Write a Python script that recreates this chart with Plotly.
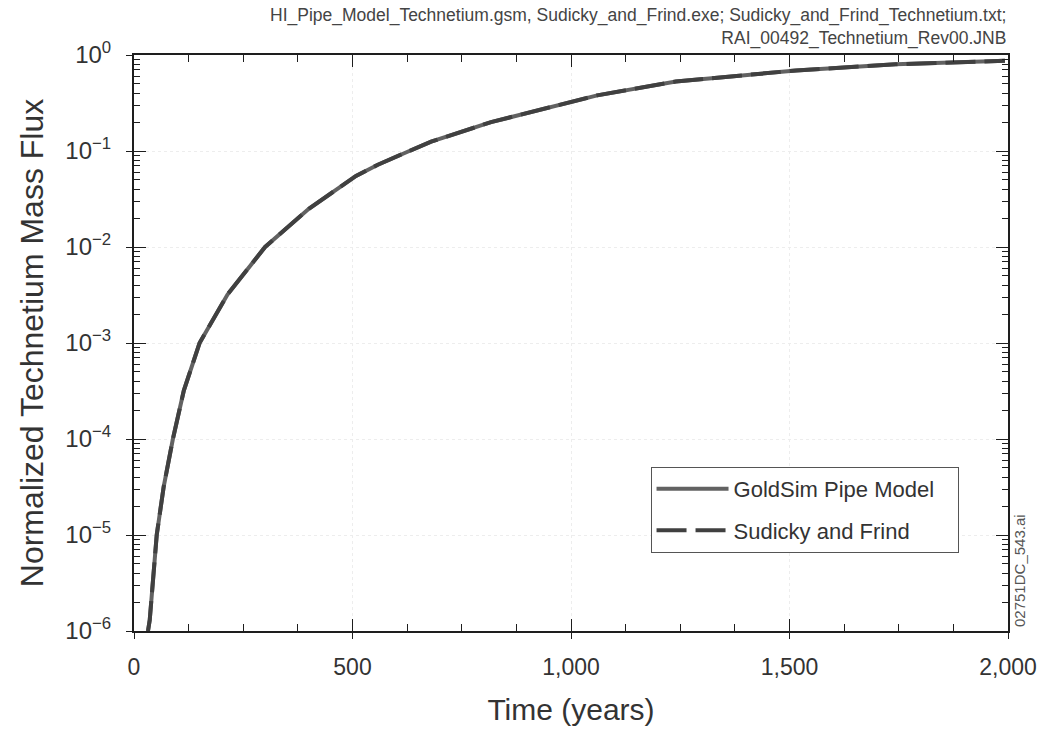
import plotly.graph_objects as go

# ---- data ----
time_years = [32, 36, 52, 68, 89, 114, 150, 214, 300, 400, 508, 558, 630, 680, 817, 1060, 1240, 1515, 1743, 1993]
goldsim_flux = [1e-6, 1.3e-6, 1e-5, 3.2e-5, 1e-4, 3.2e-4, 1e-3, 3.2e-3, 1e-2, 2.5e-2,
                0.055, 0.072, 0.10, 0.125, 0.20, 0.38, 0.53, 0.69, 0.80, 0.87]
sudicky_flux = [1e-6, 1.3e-6, 1e-5, 3.2e-5, 1e-4, 3.2e-4, 1e-3, 3.2e-3, 1e-2, 2.5e-2,
                0.055, 0.072, 0.10, 0.125, 0.20, 0.38, 0.53, 0.69, 0.80, 0.87]

x_ticks = [0, 500, 1000, 1500, 2000]
x_ticklabels = ["0", "500", "1,000", "1,500", "2,000"]
y_ticks = [1e-6, 1e-5, 1e-4, 1e-3, 1e-2, 1e-1, 1]
y_ticklabels = ["10<sup>\u22126</sup>", "10<sup>\u22125</sup>", "10<sup>\u22124</sup>",
                "10<sup>\u22123</sup>", "10<sup>\u22122</sup>", "10<sup>\u22121</sup>", "10<sup>0</sup>"]

series_names = ["GoldSim Pipe Model", "Sudicky and Frind"]
header_text = ("HI_Pipe_Model_Technetium.gsm, Sudicky_and_Frind.exe; Sudicky_and_Frind_Technetium.txt;<br>"
               "RAI_00492_Technetium_Rev00.JNB")
figure_id = "02751DC_543.ai"

SANS = "Liberation Sans, Arial, sans-serif"
AX = "#1e1e1e"
TXT = "#333333"
PAD = "\u00a0" * 3

fig = go.Figure()
fig.add_trace(go.Scatter(x=time_years, y=goldsim_flux, mode="lines", name=series_names[0] + PAD,
                         legendgroup="a", line=dict(color="#626262", width=4)))
fig.add_trace(go.Scatter(x=time_years, y=sudicky_flux, mode="lines", name=series_names[1] + PAD,
                         legendgroup="b", line=dict(color="#404040", width=4, dash="30px,9px")))
# empty trace to host the overlay axes (outer stubs of the major ticks)
fig.add_trace(go.Scatter(x=[], y=[], xaxis="x2", yaxis="y2", showlegend=False, hoverinfo="skip"))

fig.update_layout(
    width=1049, height=733,
    margin=dict(l=134, r=36, t=55, b=102),
    paper_bgcolor="white", plot_bgcolor="white",
    font=dict(family=SANS, color=TXT),
    showlegend=True,
    legend=dict(x=0.591, y=0.285, xanchor="left", yanchor="top",
                bgcolor="white", bordercolor="#555555", borderwidth=1,
                font=dict(family=SANS, size=22, color=TXT),
                traceorder="grouped", tracegroupgap=10, itemwidth=72),
    xaxis=dict(range=[0, 2000], tickvals=x_ticks, ticktext=x_ticklabels,
               ticks="inside", ticklen=12, tickwidth=1, tickcolor=AX,
               showline=True, linecolor=AX, linewidth=2, mirror="ticks",
               showgrid=True, gridcolor="#ededed", griddash="dot", zeroline=False,
               minor=dict(dtick=125, ticks="inside", ticklen=7, tickcolor=AX, showgrid=False),
               tickfont=dict(family=SANS, size=23, color=TXT),
               ticklabelstandoff=14,
               title=dict(text="Time (years)", font=dict(family=SANS, size=30, color=TXT),
                          standoff=20)),
    yaxis=dict(type="log", range=[-6, 0], tickvals=y_ticks, ticktext=y_ticklabels,
               ticks="inside", ticklen=12, tickwidth=1, tickcolor=AX,
               showline=True, linecolor=AX, linewidth=2, mirror="ticks",
               showgrid=True, gridcolor="#ededed", griddash="dot", zeroline=False,
               minor=dict(dtick="D1", ticks="inside", ticklen=6, tickcolor=AX, showgrid=False),
               tickfont=dict(family=SANS, size=24, color=TXT),
               ticklabelstandoff=16,
               title=dict(text="Normalized Technetium Mass Flux",
                          font=dict(family=SANS, size=32, color=TXT), standoff=12)),
    xaxis2=dict(overlaying="x", anchor="y2", side="bottom", range=[0, 2000], tickvals=x_ticks,
                showticklabels=False, ticks="outside", ticklen=7, tickcolor=AX,
                showgrid=False, zeroline=False, showline=False),
    yaxis2=dict(overlaying="y", anchor="x2", side="left", type="log", range=[-6, 0], tickvals=y_ticks,
                showticklabels=False, ticks="outside", ticklen=7, tickcolor=AX,
                showgrid=False, zeroline=False, showline=False),
)

fig.add_annotation(text=header_text, xref="paper", yref="paper", x=1.0, y=1.0,
                   xanchor="right", yanchor="bottom", yshift=4, align="right", showarrow=False,
                   font=dict(family=SANS, size=17.5, color="#444444"))
fig.add_annotation(text=figure_id, xref="paper", yref="paper", x=1.0, y=0.0,
                   xanchor="left", yanchor="bottom", xshift=1, yshift=2, textangle=-90, showarrow=False,
                   font=dict(family=SANS, size=15, color="#555555"))

fig.write_html("out.html")
